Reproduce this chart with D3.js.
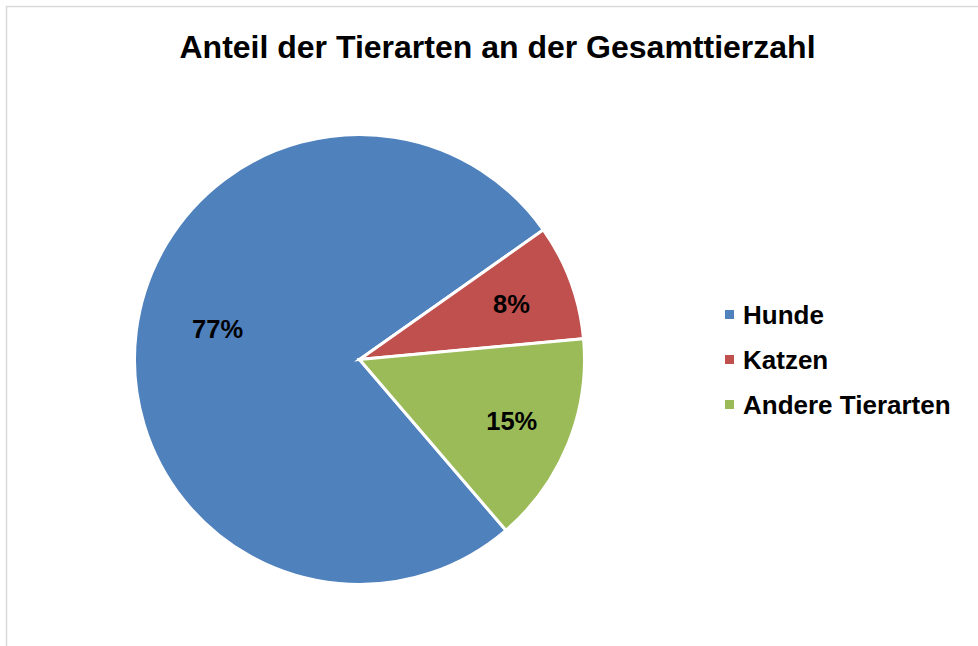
<!DOCTYPE html>
<html>
<head>
<meta charset="utf-8">
<script src="https://cdn.jsdelivr.net/npm/d3@7"></script>
<style>
  body { margin: 0; background: #fff; }
  svg { display: block; font-family: Arial, "Liberation Sans", sans-serif; }
</style>
</head>
<body>
<div id="chart"></div>
<script>
// Data
const categories = ["Hunde", "Katzen", "Andere Tierarten"];
const shares = [76.5, 8.3, 15.2];
const colors = ["#4F81BD", "#C0504D", "#9BBB59"];
const title = "Anteil der Tierarten an der Gesamttierzahl";

const w = 978;
const h = 646;
const cx = 359.5;
const cy = 359.5;
const radius = 225;
const firstSliceAngle = 139.4; // degrees, clockwise from 12 o'clock

// Excel nudges the big slice's label a bit; kept here as layout, not data
const labelLayout = {
  "Hunde": { r: 0.645, shift: 5 },
  "Katzen": { r: 0.72, shift: 0 },
  "Andere Tierarten": { r: 0.73, shift: 0 }
};

const data = categories.map((c, i) => ({ name: c, value: shares[i] }));

const svg = d3.select("#chart")
    .append("svg")
    .attr("width", w)
    .attr("height", h)
    .attr("viewBox", [0, 0, w, h]);

// chart area frame (only top/left visible)
svg.append("rect")
    .attr("x", 6.5)
    .attr("y", 6.5)
    .attr("width", 1000)
    .attr("height", 700)
    .attr("fill", "none")
    .attr("stroke", "#d9d9d9")
    .attr("stroke-width", 1.5);

svg.append("text")
    .attr("x", 497.5)
    .attr("y", 58)
    .attr("text-anchor", "middle")
    .attr("font-size", 32)
    .attr("font-weight", "bold")
    .attr("fill", "#000")
    .text(title);

const color = d3.scaleOrdinal().domain(categories).range(colors);

const start = firstSliceAngle * Math.PI / 180;
const pie = d3.pie()
    .sort(null)
    .value(d => d.value)
    .startAngle(start)
    .endAngle(start + 2 * Math.PI);

const arcs = pie(data);

const arc = d3.arc()
    .innerRadius(0)
    .outerRadius(radius);

const g = svg.append("g")
    .attr("transform", `translate(${cx},${cy})`);

g.selectAll("path")
    .data(arcs)
    .join("path")
    .attr("d", arc)
    .attr("fill", d => color(d.data.name))
    .attr("stroke", "#fff")
    .attr("stroke-width", 3)
    .attr("stroke-linejoin", "miter");

const fmt = d3.format(".0f");

g.selectAll("text.label")
    .data(arcs)
    .join("text")
    .attr("class", "label")
    .attr("transform", d => {
        const lay = labelLayout[d.data.name];
        const a = (d.startAngle + d.endAngle) / 2 + lay.shift * Math.PI / 180;
        const r = radius * lay.r;
        return `translate(${Math.sin(a) * r},${-Math.cos(a) * r})`;
    })
    .attr("text-anchor", "middle")
    .attr("dy", "0.36em")
    .attr("font-size", 25.5)
    .attr("font-weight", "bold")
    .attr("fill", "#000")
    .text(d => fmt(d.data.value) + "%");

// legend
const legend = svg.append("g")
    .attr("transform", "translate(725,0)");

const ly = d3.scalePoint()
    .domain(categories)
    .range([314.5, 404.5]);

const item = legend.selectAll("g")
    .data(categories)
    .join("g")
    .attr("transform", d => `translate(0,${ly(d)})`);

item.append("rect")
    .attr("x", 0)
    .attr("y", -4.5)
    .attr("width", 9)
    .attr("height", 9)
    .attr("fill", d => color(d));

item.append("text")
    .attr("x", 18)
    .attr("dy", "0.36em")
    .attr("font-size", 26)
    .attr("font-weight", "bold")
    .attr("fill", "#000")
    .text(d => d);
</script>
</body>
</html>
